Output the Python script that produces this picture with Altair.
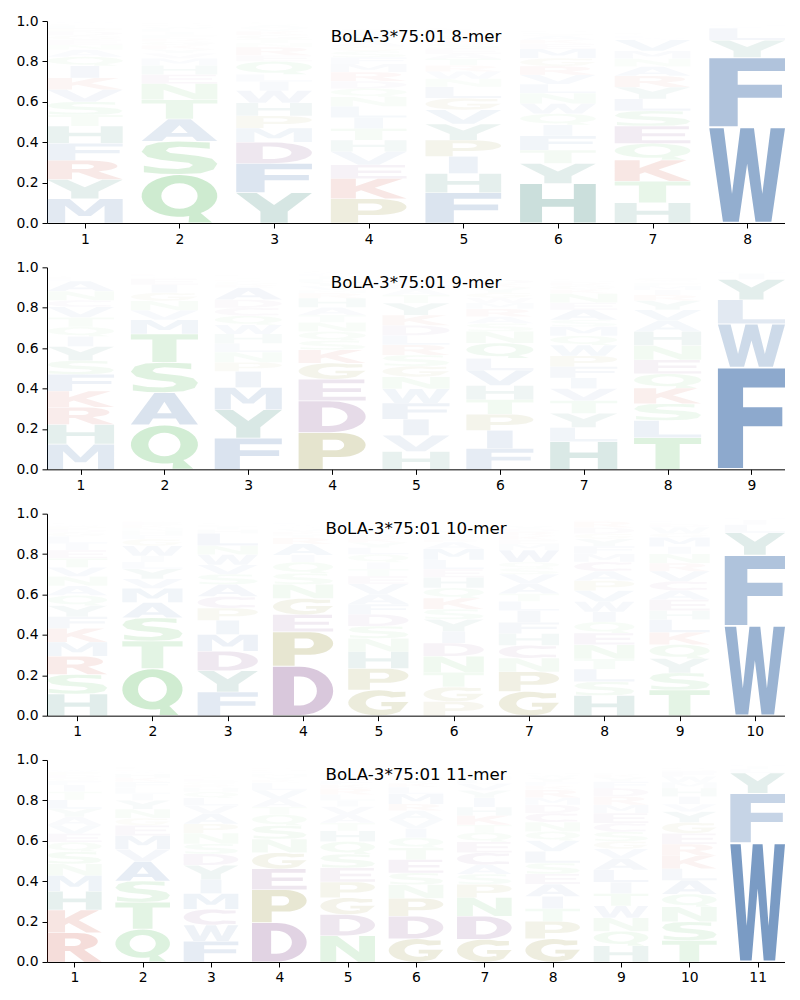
import math
import re
import altair as alt
import pandas as pd

# Each column is listed bottom-to-top: letter + share of the stack (percent).
MER8 = [
    "M12 Y9.5 R9.5 F8.5 H8.5 T5.5 S6.5 V6 K5.8 I6 Q4.5 A3.5 N2.5 E2.5 G2 D2 P1.5 L1.5 C1 W1",
    "Q24 S16.5 A11 T9.5 N8 E4.5 H4.5 M3.5 V2.5 Y2 K2 G1.8 R1.7 F1.6 I1.5 L1.4 W1.2 D1 P1 C.7",
    "Y15 F14.5 D10.5 M7 P6 H6.5 W6 I4.5 L3.5 Q6.5 E3 R4 N2 T2 G2 K2 V1.5 A1.5 S1 C.5",
    "P12 K10 E6.8 V6.5 H5.7 T5.7 I5.5 L5.5 N4.7 Q4.2 D3.6 R4.5 M4 F3.3 S3 G2.5 A2.5 Y2.5 W2 C1.5",
    "F15 H9.5 I8.5 P8 Y8 V7 G5.8 L5.6 N4 W3.6 R3 T3.3 A2.5 E2.5 S2.5 K2 Q2 M1.5 D1.5 C1",
    "H19.5 Y10 T6.6 F7 I5.5 Q5.5 W5 N5.2 L4.5 V4.5 R4.3 G4 M4.6 E2.5 K2 A2 S1.5 D1 P.5 C.5",
    "H10 T10.7 K10.5 Q8.2 E8.6 S7.5 L6 Y5.8 R5.5 A4.6 N4 M3.8 V5.4 W1 F1 G1 D.5 I.5 P.3 C.2",
    "W47.5 F34.5 Y8.5 L6 I1 M.6 V.5 H.3 A.2 T.1 S.1",
]
MER9 = [
    "M12.5 H9.7 R8.5 K8 F8.3 S6.8 Y7 I5 Q4.7 T4.7 V5.2 C3.3 N4.5 A5 L1 E1 G.8 W.4 P.4 D.3",
    "Q22 A16 S15 T14 M7 V4.7 N4.7 G4 I4 E3 Y1 L.8 K.6 F.5 R.4 D.3 P.3 H.2 W.1 C.1",
    "F15.5 Y14 M11 I8 P4.5 N5 L4.3 H4.7 W4.5 Q4.5 C4 D4 A6 R1.5 G1.5 K1 T1 S.7 E.5 V.3",
    "P18.2 D15.7 E10.7 G8 K6.6 S4.5 Q4.5 N4.6 T3.6 A3.8 H4.5 R2.5 M1.5 V2 Y2 L1.5 I1.5 F1 W1 C.5",
    "H8.8 V8 I8 F8 W7 N6 G5.3 S5.5 R5 L4.7 D5 K5 Y6 T4 A3 M2 P1.5 E1.5 Q1 C.5",
    "F10.3 I9 P8 T7.2 H7 V7.5 L6 Q7.5 N5.8 S4 A3.3 R3.8 M3 W2.5 G2.5 Y2.5 K2 D2 E1 C.5",
    "H13.7 L7 Y7 T6.3 V6 I5.3 F5.6 P5.3 W5.3 Q4.6 M4.6 S3.3 A5 E3.5 N4.5 K2 G2 R1.5 D1 C1",
    "T15.7 L8.5 S8.3 K7.7 Q7.1 E6.9 N7.1 H6.9 A5.4 V5.3 Y4.6 R2.8 I2.5 M2 F1.5 W1 G1.5 D.8 P.5 C.2",
    "F50.5 W21.5 L12 Y10 I3 M.8 V.6 H.4 A.2",
]
MER10 = [
    "H10.7 S9.7 R9 M7 K6.8 F5.8 Y5.5 Q5 A4.7 N4.7 V4.5 T4.5 E4 I3.3 L3.5 G2 D1.5 P1.5 W1 C1",
    "Q23.3 T13.7 S11.5 A7.5 M7 V4.7 Y5 L3.4 I3 W5 G3.3 F2 H2 N1.5 K1.5 E1.5 R.7 D.5 P.3 C.2",
    "F11.7 Y10.5 D9.7 M8.3 I7 P6 C5.8 A6 S5 V4.7 W5 N4.5 L6 H2 T1.5 E1 G1 R.5 K.5 Q.5",
    "D24.5 P17 E8.5 G8 N7 S5.5 Q5.5 I3.5 A5.5 R3 T1.5 K1.5 V1.5 Y1 W1 L1 M.7 F.5 H.5 C.3",
    "G12.7 P10.7 H8.3 N6.6 S6 D5.8 F5.1 A5 V5 E3.8 T3.6 I3.3 Q4 L3.3 Y2.5 K2 R1.5 W1.5 M1 C.5",
    "P7 G7.2 T7.2 N8 D6.5 I5.8 Y6 S5 K5.5 Q5 H5.3 E4 L4.6 M5.5 A3.3 R1.5 F1.5 W1.5 V1.5 C1",
    "G12 P9.7 N6.8 C6.3 H5.8 F5.6 I5.8 L4.6 T3.8 A5 V4.6 S3 Q3 W6 M3 E2 K2 R2 D1.5 Y1.5",
    "H10 S6.8 L6.3 T5 N7 E5.8 Q5.5 I5 W5 V5.5 P5 A4.6 C4.6 M4 F3.8 Y3.6 G2.6 D3 R3 K1",
    "T12.7 S8.5 Y7 Q7 K6 L6.3 H4.5 E5.5 A4.5 C4.5 V5 R4 N4.6 I3.6 M4.6 G2 W3 D1.5 P1 F.7",
    "W44.5 F35 Y11 L4 I2.5 M1 V.7 H.4 A.2",
]
MER11 = [
    "R14.5 K11.3 H9.2 M7.8 N5.8 S6 Q4.7 E4.2 V4.3 A4 Y4 L4.5 T4 I3.3 F2 G1.5 D1.5 P1.5 W1 C.5",
    "Q16.3 T13.3 S10.5 A9.7 V6 M6.8 E5 G3.6 N4.5 Y4.3 I3.2 L3 F3 K2 H2 W1 R1 D.8 P.7 C.5",
    "F10.3 W8 C7.8 M7.8 I7 Y7 D5.6 S5 N5.3 P4.6 A5 V4 L3.8 Q3 H2 R1.5 G1.5 E1.5 T1 K1",
    "D19.5 P16.3 E10.3 G8 N6.8 S6.6 Q5.5 T3.8 A4 V4.3 L3.6 K1.5 Y1.5 M1.5 F1 H1 R1 W.5 C.3 I.3",
    "N13 D10.5 G8.3 P7.8 E7 S6.8 Q6.2 H5.3 T4 A4 V4 I3 L3 R3 K2 F2 Y2 M1.5 W.5 C.5",
    "G11.5 D11.2 P8.8 N6.8 S5.8 E6.6 T5.8 Q5 I4.6 V4.4 A4.4 R3.3 M5 L3.3 K2 Y1.5 H1.5 F1 W1 C.5",
    "G11.2 D11.5 N9.2 P6.6 S5 A4.6 C6 E5.4 Q4.6 T3.8 K4.6 H4.2 I4.5 Y3.8 V3.3 L2 M1.5 F1.5 W1 R.5",
    "G11.5 P8.6 T6.3 I6.1 A6.1 E5 S5.4 L5.8 V5.3 Q4.5 N4.6 C4.5 D4.1 M3.6 R3.8 K2 F2 Y2 W1.5 H1",
    "H8 Q7.2 N6.6 W6 T6.1 I5.6 L6.1 A5.6 V4.8 G3.8 S4.6 C4.3 E5 M4.1 R4.1 D4.1 F3.3 Y2 K1.5 P1",
    "T10.7 S9.2 N7.4 Q6.3 A6.8 L5.8 K6.3 R5.8 E5.4 G5.4 Y5.4 V3.6 I3.8 H4.1 M3 W2.8 F2.5 D1 P.7 C.5",
    "W59 F24.5 Y10 L2 I1.5 M.8 V.6 H.3",
]
PANELS = [("BoLA-3*75:01 8-mer", MER8), ("BoLA-3*75:01 9-mer", MER9),
          ("BoLA-3*75:01 10-mer", MER10), ("BoLA-3*75:01 11-mer", MER11)]
Y_TICKS = [0.0, 0.2, 0.4, 0.6, 0.8, 1.0]

BLUE, TEAL, GREEN, OLIVE, RED, PURPLE = "#21589d", "#006452", "#3cb143", "#787300", "#be2814", "#6a2876"
LETTER_COLORS = {**dict.fromkeys("FWMALIV", BLUE), **dict.fromkeys("HY", TEAL),
                 **dict.fromkeys("QSTN", GREEN), **dict.fromkeys("GP", OLIVE),
                 **dict.fromkeys("KR", RED), **dict.fromkeys("DEC", PURPLE)}


def arc(cx, cy, rx, ry, a0, a1, n=14):
    return [(cx + rx * math.cos(math.radians(a0 + (a1 - a0) * i / n)),
             cy + ry * math.sin(math.radians(a0 + (a1 - a0) * i / n))) for i in range(n + 1)]


def area2(ring):
    return sum(a[0] * b[1] - b[0] * a[1] for a, b in zip(ring, ring[1:] + ring[:1]))


def keyhole(outer, hole, at):
    """Join a hole to the outline at vertex `at`, with opposite winding."""
    if area2(outer) * area2(hole) > 0:
        hole = hole[::-1]
    return outer[:at + 1] + hole + [hole[0]] + outer[at:]


GLYPHS = {
    "F": [(0, 0), (.375, 0), (.375, .42), (.96, .42), (.96, .61), (.375, .61), (.375, .81), (1, .81), (1, 1), (0, 1)],
    "E": [(0, 0), (1, 0), (1, .18), (.36, .18), (.36, .41), (.93, .41), (.93, .59), (.36, .59), (.36, .82), (.98, .82), (.98, 1), (0, 1)],
    "L": [(0, 0), (1, 0), (1, .18), (.37, .18), (.37, 1), (0, 1)],
    "T": [(.32, 0), (.68, 0), (.68, .81), (1, .81), (1, 1), (0, 1), (0, .81), (.32, .81)],
    "H": [(0, 0), (.29, 0), (.29, .41), (.71, .41), (.71, 0), (1, 0), (1, 1), (.71, 1), (.71, .61), (.29, .61), (.29, 1), (0, 1)],
    "I": [(.31, 0), (.69, 0), (.69, 1), (.31, 1)],
    "M": [(0, 0), (.24, 0), (.24, .72), (.42, .28), (.58, .28), (.76, .72), (.76, 0), (1, 0), (1, 1), (.7, 1), (.5, .47), (.3, 1), (0, 1)],
    "W": [(0, 1), (.19, 1), (.3, .3), (.41, 1), (.59, 1), (.7, .3), (.81, 1), (1, 1), (.82, 0), (.61, 0), (.5, .62), (.39, 0), (.18, 0)],
    "V": [(0, 1), (.26, 1), (.5, .27), (.74, 1), (1, 1), (.64, 0), (.36, 0)],
    "Y": [(0, 1), (.27, 1), (.5, .6), (.73, 1), (1, 1), (.68, .38), (.68, 0), (.32, 0), (.32, .38)],
    "K": [(0, 0), (.33, 0), (.33, .33), (.4, .42), (.72, 0), (1, 0), (.58, .55), (.95, 1), (.62, 1), (.33, .62), (.33, 1), (0, 1)],
    "N": [(0, 0), (.29, 0), (.29, .62), (.69, 0), (1, 0), (1, 1), (.71, 1), (.71, .38), (.31, 1), (0, 1)],
    "A": keyhole([(0, 0), (.27, 0), (.33, .19), (.67, .19), (.73, 0), (1, 0), (.65, 1), (.35, 1)],
                 [(.39, .36), (.5, .72), (.61, .36)], 2),
    "Q": keyhole(arc(.5, .56, .5, .44, -50, 285, 36) + [(.62, 0), (.93, 0), (.78, .2)],
                 arc(.5, .56, .24, .27, 0, 360, 28)[:-1], 18),
    "C": arc(.5, .5, .5, .5, 60, 300, 26) + [(.95, .06), (.95, .25)] + arc(.55, .5, .26, .28, -50, -310, 22) + [(.95, .75), (.95, .94)],
    "G": arc(.5, .5, .5, .5, 60, 315, 26) + [(1, .53), (.55, .53), (.55, .36), (.72, .36), (.72, .24)] + arc(.55, .5, .26, .28, -60, -310, 22) + [(.95, .75), (.95, .94)],
    "D": keyhole([(0, 0), (.45, 0)] + arc(.45, .5, .55, .5, -90, 90, 22) + [(0, 1)],
                 [(.35, .2), (.45, .2)] + arc(.45, .5, .28, .3, -90, 90, 16) + [(.35, .8)], 0),
    "P": keyhole([(0, 0), (.36, 0), (.36, .33), (.6, .33)] + arc(.62, .665, .38, .335, -90, 90, 16) + [(0, 1)],
                 [(.36, .52), (.55, .52)] + arc(.56, .665, .12, .145, -90, 90, 10) + [(.36, .81)], 2),
    "R": keyhole([(0, 0), (.33, 0), (.33, .37), (.42, .37), (.68, 0), (1, 0), (.68, .42)] + arc(.55, .71, .38, .29, -60, 90, 14) + [(0, 1)],
                 [(.33, .55), (.5, .55)] + arc(.5, .68, .12, .13, -90, 90, 10) + [(.33, .81)], 2),
    "S": [(.9, .97), (.9, .78), (.7, .82), (.5, .84), (.36, .8), (.32, .72), (.38, .65), (.55, .61), (.75, .56), (.93, .47),
          (1, .32), (.95, .14), (.78, .03), (.5, 0), (.25, .01), (.03, .06), (.03, .26), (.25, .18), (.48, .16), (.63, .2),
          (.68, .28), (.62, .35), (.45, .39), (.25, .44), (.08, .53), (0, .69), (.06, .87), (.22, .97), (.48, 1), (.7, .99)],
}


def rows_for(columns):
    rows = []
    for pos, col in enumerate(columns, start=1):
        base = 0.0
        for k, tok in enumerate(col.split()):
            m = re.match(r"([A-Z])([\d.]+)", tok)
            letter, h = m.group(1), float(m.group(2)) / 100
            pad = h * 0.012
            alpha = h + .01 if h >= .1 else h * (.45 + 6.5 * h)
            for v, (gx, gy) in enumerate(GLYPHS[letter]):
                rows.append({"gid": f"{pos}-{k}", "v": v,
                             "x": pos - .4 + .8 * gx,
                             "y": base + pad + (h - 2 * pad) * gy,
                             "c": LETTER_COLORS[letter],
                             "a": min(1, alpha)})
            base += h
    return pd.DataFrame(rows)


W, H = 738, 202
FONT = "DejaVu Sans"


def panel(title, columns):
    n = len(columns)
    x = alt.X("x:Q", scale=alt.Scale(domain=[.6, n + .4], nice=False, zero=False),
              axis=alt.Axis(values=list(range(1, n + 1)), format="d", title=None, grid=False,
                            tickColor="black", domainColor="black", labelColor="black", labelFont=FONT,
                            labelFontSize=13.9, tickSize=5, labelPadding=4, labelFlush=False, labelOverlap=False))
    y = alt.Y("y:Q", scale=alt.Scale(domain=[0, 1], nice=False, zero=False),
              axis=alt.Axis(values=Y_TICKS, format=".1f", title=None, grid=False,
                            tickColor="black", domainColor="black", labelColor="black", labelFont=FONT,
                            labelFontSize=13.9, tickSize=5, labelPadding=4, labelFlush=False, labelOverlap=False))
    logo = alt.Chart(rows_for(columns)).mark_line(filled=True, strokeWidth=0, interpolate="linear-closed").encode(
        x=x, y=y, detail="gid:N", order="v:Q",
        color=alt.Color("c:N", scale=None), opacity=alt.Opacity("a:Q", scale=None))
    label = alt.Chart(pd.DataFrame({"t": [title]})).mark_text(
        font=FONT, fontSize=16.67, color="black", baseline="middle", align="center").encode(
        x=alt.value(W / 2), y=alt.value(15.5), text="t:N")
    return alt.layer(logo, label).properties(width=W, height=H)


chart = alt.vconcat(*[panel(t, c) for t, c in PANELS]).properties(
    spacing=44.33, bounds="flush", padding={"left": 7, "top": 6, "right": 0, "bottom": 0},
).configure_view(stroke=None)

chart.save("out.html", embed_options={"renderer": "svg", "actions": False})
